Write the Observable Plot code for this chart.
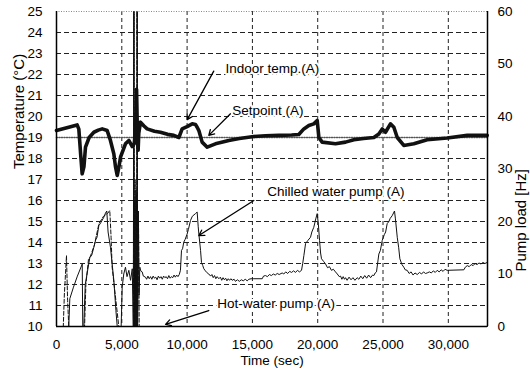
<!DOCTYPE html>
<html><head><meta charset="utf-8">
<script src="https://cdn.jsdelivr.net/npm/d3@7"></script>
<script src="https://cdn.jsdelivr.net/npm/@observablehq/plot@0.6"></script>
<style>
body{margin:0;background:#fff}
svg{font-family:"Liberation Sans",Arial,Helvetica,sans-serif}
</style>
</head><body><div id="chart"></div>
<script>
// Time axis ticks (sec) and temperature ticks (°C); pump load ticks (Hz)
const timeTicks = [0, 5000, 10000, 15000, 20000, 25000, 30000];
const tempTicks = [10, 11, 12, 13, 14, 15, 16, 17, 18, 19, 20, 21, 22, 23, 24, 25];
const hzTicks = [0, 10, 20, 30, 40, 50, 60];

// Indoor temp (A), °C
const indoorTime = [0,1580,1710,1850,1965,2100,2220,2500,2860,3200,3500,3880,4130,4390,4520,4650,4780,4900,5280,5540,5800,5950,6050,6130,6200,6250,6300,6430,6700,6940,7500,7960,8500,8980,9370,9620,10000,10390,10640,10770,10900,11150,11540,12170,13190,14000,15110,16000,17020,18000,18550,18940,19320,19700,19960,20090,20340,21360,22130,22770,23500,24300,24680,24940,25190,25570,25830,26090,26590,27360,28380,29910,31450,32980];
const indoorTemp = [19.33,19.6,19.4,18.2,17.27,17.6,18.54,19.0,19.25,19.35,19.41,19.33,18.86,18.22,17.6,17.19,17.6,18.06,18.70,18.86,18.57,18.7,19.3,21.3,19.0,18.4,19.2,19.73,19.55,19.41,19.3,19.25,19.15,19.1,19.0,19.41,19.52,19.65,19.62,19.49,19.33,18.78,18.54,18.70,18.86,18.95,19.05,19.08,19.10,19.12,19.14,19.41,19.57,19.65,19.81,19.0,18.78,18.70,18.78,18.89,18.95,19.0,19.17,19.41,19.25,19.65,19.49,19.0,18.62,18.70,18.89,18.98,19.10,19.10];

// Setpoint (A), °C
const setpointTime = [0, 33000];
const setpointTemp = [19, 19];

// Chilled water pump (A), Hz
const chilledTime = [0,940,1020,1300,1600,1970,2010,2090,2200,2550,2700,2860,3000,3100,3240,3400,3620,3750,3850,3950,4130,4390,4550,4650,4950,5030,5150,5280,5400,5540,5670,5800,5880,5920,5950,6000,6040,6090,6130,6180,6210,6270,6320,6380,6450,6560,6650,6810,6900,7000,7100,7200,7300,7400,7500,7600,7700,7800,7900,8000,8100,8200,8300,8400,8500,8600,8700,8800,8900,9000,9100,9200,9300,9400,9490,9570,9650,9750,9850,10000,10100,10260,10400,10640,10770,10850,10900,11030,11100,11200,11280,11400,11500,11660,11800,11900,12000,12100,12200,12300,12430,12550,12650,12750,12850,12950,13050,13150,13250,13350,13450,13600,13700,13850,14000,14150,14300,14450,14600,14730,14900,15110,15750,15850,16000,16150,16300,16450,16600,16750,16900,17050,17280,17400,17550,17700,17850,18000,18150,18300,18450,18600,18760,18850,18940,19070,19250,19450,19550,19700,19850,19960,20050,20140,20220,20290,20450,20600,20750,20900,21050,21200,21360,21500,21650,21750,21850,21950,22050,22130,22250,22400,22550,22700,22850,23020,23150,23300,23450,23600,23750,23900,24050,24200,24300,24400,24500,24680,24800,24940,25100,25200,25320,25450,25550,25700,25880,25950,26090,26200,26290,26450,26590,26700,26850,27000,27150,27300,27450,27620,27800,27950,28100,28250,28380,28550,28700,28850,29000,29150,29300,29450,29600,29750,29910,31190,31300,31450,31600,31750,31900,32050,32200,32350,32500,32650,32800,32980];
const chilledHz = [0,0,5.3,7.5,9.6,11.9,0,0,8,13.1,13.6,15.1,16.5,17,19.2,19.8,20.8,21.6,22.0,18,15.1,8.8,3,0,0,7.5,10,11.3,9.5,10.7,8.8,11,0,60,0,24,0,26,0,60,0,22,6,11.3,10.6,10.4,9.6,9.4,9.0,9.6,9.1,9.5,9.0,9.6,9.2,9.4,8.9,9.6,9.2,9.5,9.0,9.6,9.3,9.5,9.1,9.7,9.2,9.5,9.3,9.8,9.4,9.8,9.5,9.9,10.7,14.5,14.8,16.1,16.6,17.6,18.5,20.2,21.0,21.5,21.8,19,17.6,14.5,12.2,11.6,11.0,10.6,10.3,10.0,9.6,9.9,9.3,9.7,9.1,9.5,9.1,9.4,8.8,9.3,8.9,9.2,8.7,9.1,8.8,9.1,8.8,9.0,8.6,8.9,8.6,8.9,8.7,9.0,8.7,9.0,9.1,9.1,9.1,9.6,9.7,9.5,9.9,9.7,10.0,9.8,10.1,9.9,10.2,10.0,10.4,10.1,10.5,10.3,10.6,10.3,10.7,10.4,10.7,12,13.5,15.8,16.4,17.0,18,18.9,20.5,21.5,19.5,16.4,14.0,12.9,12.4,11.9,11.2,11.4,10.7,10.9,10.4,10.0,9.5,9.6,9.0,9.5,9.0,9.3,8.8,9.4,8.9,9.3,8.8,9.3,9.0,9.6,9.1,9.7,9.2,9.8,9.3,9.8,9.7,10.2,10.4,13.8,14.5,16.4,17.5,18.0,19.6,20.0,20.6,21.1,22.0,20.5,17.0,15.0,12.9,11.8,11.3,10.8,10.7,10.1,10.4,9.8,10.2,9.9,10.3,10.0,10.4,10.1,10.2,10.4,10.2,10.6,10.3,10.7,10.4,10.8,10.5,10.9,10.7,10.8,11.3,11.6,11.4,11.8,11.6,12.0,11.8,12.1,11.9,12.2,12.0,12.2];

// Hot-water pump (A), Hz
const hotTime = [0,520,600,765,850,940,2150,2250,2450,2600,2900,3250,3600,3900,4080,4180,4260,4500,4770,5900,5935,5965,6020,6065,6110,6150,6170,6200,6280,6330,33000];
const hotHz = [0,0,6,13.5,5,0,0,8,12.8,13.4,15.5,19.6,21.0,21.5,22.1,17,11.3,6,0,0,60,0,28,0,25,0,60,0,20,0,0];

// Pump load (Hz) shares the plot with temperature (°C): 0–60 Hz ↔ 10–25 °C
const hzToTemp = h => 10 + h / 4;

const indoor = indoorTime.map((t, i) => ({t, v: indoorTemp[i]}));
const setpoint = setpointTime.map((t, i) => ({t, v: setpointTemp[i]}));
const chilled = chilledTime.map((t, i) => ({t, v: hzToTemp(chilledHz[i])}));
const hot = hotTime.map((t, i) => ({t, v: hzToTemp(hotHz[i])}));

const gridY = tempTicks.filter(d => d > 10 && d < 25 && d !== 19);
const gridX = timeTicks.filter(d => d > 0);

const chart = Plot.plot({
  width: 530, height: 372,
  marginLeft: 56, marginRight: 43, marginTop: 11, marginBottom: 46,
  style: {fontFamily: '"Liberation Sans", Arial, Helvetica, sans-serif', background: "#fff"},
  x: {domain: [0, 33000]},
  y: {domain: [10, 25]},
  marks: [
    Plot.ruleY(gridY, {stroke: "#222", strokeWidth: 1, strokeDasharray: "5,3"}),
    Plot.ruleX(gridX, {stroke: "#222", strokeWidth: 1, strokeDasharray: "4,3"}),
    Plot.ruleY([25], {stroke: "#888", strokeWidth: 1, strokeDasharray: "1,1.5"}),
    Plot.line(setpoint, {x: "t", y: "v", stroke: "#555", strokeWidth: 1.5, strokeDasharray: "1,1.5"}),
    Plot.line(hot, {x: "t", y: "v", stroke: "#111", strokeWidth: 1, strokeDasharray: "4,2"}),
    Plot.line(chilled, {x: "t", y: "v", stroke: "#111", strokeWidth: 1}),
    Plot.line(indoor, {x: "t", y: "v", stroke: "#111", strokeWidth: 3.6}),
    Plot.ruleX([0, 33000], {stroke: "#000", strokeWidth: 1.5}),
    Plot.ruleY([10], {stroke: "#000", strokeWidth: 1.5}),
    Plot.axisX({ticks: timeTicks, tickFormat: d3.format(","), tickSize: 0, tickPadding: 13, fontSize: 13.5, label: null}),
    Plot.axisY({ticks: tempTicks, tickSize: 0, tickPadding: 14, fontSize: 13.5, label: null}),
    Plot.axisY(hzTicks.map(hzToTemp), {anchor: "right", tickFormat: d => Math.round((d - 10) * 4), tickSize: 0, tickPadding: 10, fontSize: 13.5, label: null}),
    Plot.text(["Time (sec)"], {frameAnchor: "bottom", dy: 38, fontSize: 13.5, fill: "#000"}),
    Plot.text(["Temperature (°C)"], {frameAnchor: "left", dx: -37, rotate: -90, fontSize: 15, fill: "#000"}),
    Plot.text(["Pump load [Hz]"], {frameAnchor: "right", dx: 34, rotate: -90, fontSize: 15, fill: "#000"}),
    // annotations
    Plot.arrow([0], {x1: 12040, y1: 22.16, x2: 10010, y2: 19.85, stroke: "#000", strokeWidth: 1.3, headLength: 7}),
    Plot.arrow([0], {x1: 13320, y1: 20.13, x2: 11660, y2: 19.1, stroke: "#000", strokeWidth: 1.3, headLength: 7}),
    Plot.arrow([0], {x1: 15110, y1: 16.0, x2: 10900, y2: 14.33, stroke: "#000", strokeWidth: 1.3, headLength: 7}),
    Plot.arrow([0], {x1: 11660, y1: 10.76, x2: 8350, y2: 10.1, stroke: "#000", strokeWidth: 1.3, headLength: 7}),
    Plot.text(["Indoor temp.(A)"], {x: 12940, y: 22.29, textAnchor: "start", fontSize: 13.5, fill: "#000", stroke: "#fff", strokeWidth: 4}),
    Plot.text(["Setpoint (A)"], {x: 13450, y: 20.29, textAnchor: "start", fontSize: 13.5, fill: "#000", stroke: "#fff", strokeWidth: 4}),
    Plot.text(["Chilled water pump (A)"], {x: 16130, y: 16.4, textAnchor: "start", fontSize: 13.5, fill: "#000", stroke: "#fff", strokeWidth: 4}),
    Plot.text(["Hot-water pump (A)"], {x: 12300, y: 11.08, textAnchor: "start", fontSize: 13.5, fill: "#000", stroke: "#fff", strokeWidth: 4})
  ]
});
document.getElementById("chart").append(chart);
</script>
</body></html>
